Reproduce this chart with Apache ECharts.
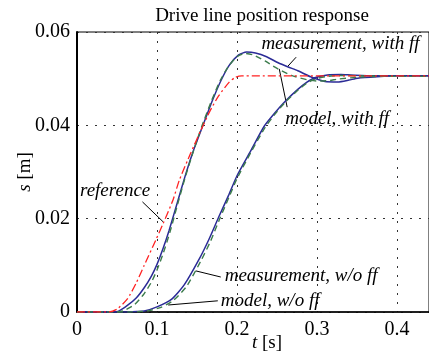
<!DOCTYPE html>
<html>
<head>
<meta charset="utf-8">
<script src="https://cdn.jsdelivr.net/npm/echarts@6/dist/echarts.min.js"></script>
<style>
  html, body { margin: 0; background: #fff; }
  #chart { width: 429px; height: 357px; }
</style>
</head>
<body>
<div id="chart"></div>
<script>
// tick values on the axes
const xTicks = [0, 0.1, 0.2, 0.3, 0.4];
const yTicks = [0, 0.02, 0.04, 0.06];

// [t (s), s (m)]
const reference = [
  [0, 0], [0.04, 0], [0.05, 0.0006], [0.063, 0.0028], [0.074, 0.0062], [0.084, 0.0100],
  [0.099, 0.0156], [0.107, 0.0187], [0.12, 0.0240], [0.128, 0.0283], [0.142, 0.0340],
  [0.155, 0.0390], [0.166, 0.0430], [0.177, 0.0463], [0.19, 0.0492], [0.198, 0.0503],
  [0.206, 0.0506], [0.44, 0.0506]
];
const measWithFf = [
  [0, 0], [0.045, 0], [0.052, 0.0002], [0.063, 0.0014], [0.074, 0.0030], [0.084, 0.0052],
  [0.093, 0.0077], [0.1, 0.0102], [0.108, 0.0138], [0.115, 0.0174], [0.125, 0.0232],
  [0.136, 0.0296], [0.146, 0.0348], [0.157, 0.0398], [0.169, 0.0452], [0.18, 0.0496],
  [0.19, 0.0528], [0.202, 0.0551], [0.212, 0.0557], [0.223, 0.0555], [0.237, 0.0547],
  [0.2515, 0.0534], [0.264, 0.0525], [0.276, 0.0517], [0.292, 0.0504], [0.31, 0.0494],
  [0.326, 0.0493], [0.34, 0.0497], [0.351, 0.0501], [0.375, 0.0504], [0.4, 0.0506],
  [0.44, 0.0506]
];
const modelWithFf = [
  [0, 0], [0.05, 0], [0.06, 0.0004], [0.072, 0.0016], [0.083, 0.0037], [0.093, 0.0064],
  [0.1, 0.0090], [0.108, 0.0127], [0.116, 0.0170], [0.125, 0.0226], [0.136, 0.0293],
  [0.146, 0.0347], [0.156, 0.0398], [0.168, 0.0452], [0.179, 0.0496], [0.19, 0.0528],
  [0.2, 0.0547], [0.21, 0.0554], [0.22, 0.0551], [0.235, 0.0538], [0.248, 0.0524],
  [0.268, 0.0507], [0.289, 0.0497], [0.301, 0.0495], [0.315, 0.0496], [0.326, 0.0499],
  [0.351, 0.0503], [0.38, 0.0505], [0.44, 0.0505]
];
const measNoFf = [
  [0, 0], [0.06, 0], [0.075, 0.0001], [0.084, 0.0002], [0.1, 0.0011], [0.118, 0.0027],
  [0.134, 0.0058], [0.152, 0.0111], [0.165, 0.0156], [0.177, 0.0203], [0.19, 0.0252],
  [0.2, 0.0292], [0.218, 0.0348], [0.234, 0.0398], [0.248, 0.0428], [0.26, 0.0451],
  [0.276, 0.0477], [0.287, 0.0492], [0.297, 0.0502], [0.313, 0.0508], [0.33, 0.0509],
  [0.342, 0.0508], [0.37, 0.0506], [0.44, 0.0506]
];
const modelNoFf = [
  [0, 0], [0.065, 0], [0.08, 0.0001], [0.09, 0.0003], [0.105, 0.0010], [0.12, 0.0024],
  [0.137, 0.0055], [0.155, 0.0110], [0.167, 0.0152], [0.178, 0.0198], [0.19, 0.0246],
  [0.2, 0.0286], [0.218, 0.0344], [0.235, 0.0395], [0.248, 0.0425], [0.26, 0.0449],
  [0.276, 0.0475], [0.287, 0.0490], [0.297, 0.0499], [0.313, 0.0505], [0.33, 0.0507],
  [0.36, 0.0506], [0.44, 0.0506]
];

// annotation text (left end, baseline) and leader line, in data units
const notes = [
  { text: 'measurement, with ff', at: [0.2305, 0.0561], from: [0.2739, 0.0546], to: [0.2627, 0.0525] },
  { text: 'model, with ff', at: [0.2602, 0.0401], from: [0.2627, 0.0439], to: [0.2528, 0.0521] },
  { text: 'reference', at: [0.0037, 0.0246], from: [0.0818, 0.0236], to: [0.1078, 0.0193] },
  { text: 'measurement, w/o ff', at: [0.1846, 0.0064], from: [0.1797, 0.0075], to: [0.1487, 0.0088] },
  { text: 'model, w/o ff', at: [0.1797, 0.0011], from: [0.176, 0.0024], to: [0.114, 0.0015] }
];

const FONT = 'Liberation Serif';
const BLUE = '#2b2b96';
const GREEN = '#3c7c4c';
const RED = '#ff2222';

const chart = echarts.init(document.getElementById('chart'));

const line = (data, color, type, width) => ({
  type: 'line',
  data: data,
  showSymbol: false,
  smooth: 0.2,
  lineStyle: { color: color, width: width, type: type },
  silent: true,
  animation: false
});

chart.setOption({
  animation: false,
  grid: {
    left: 77, right: -3, top: 32, bottom: 45,
    show: true, borderColor: '#000', borderWidth: 1
  },
  xAxis: {
    type: 'value',
    min: 0, max: 0.44, interval: 0.1,
    axisLine: { lineStyle: { color: '#000', width: 1.5 } },
    axisTick: { show: false },
    axisLabel: {
      color: '#000', fontFamily: FONT, fontSize: 20, margin: 8,
      showMaxLabel: false,
      formatter: (v) => (xTicks.some((t) => Math.abs(t - v) < 1e-9) ? String(+v.toFixed(1)) : '')
    },
    splitLine: { show: true, lineStyle: { color: '#333', width: 1, type: [2, 7] } }
  },
  yAxis: {
    type: 'value',
    min: 0, max: 0.06, interval: 0.02,
    axisLine: { show: true, lineStyle: { color: '#000', width: 2 } },
    axisTick: { show: false },
    axisLabel: {
      color: '#000', fontFamily: FONT, fontSize: 20, margin: 7,
      formatter: (v) => (v === 0 ? '0' : yTicks.includes(+v.toFixed(2)) ? v.toFixed(2) : '')
    },
    splitLine: { show: true, lineStyle: { color: '#333', width: 1, type: [2, 7] } }
  },
  series: [
    line(measNoFf, BLUE, 'solid', 1.5),
    line(modelNoFf, GREEN, [6, 4], 1.4),
    line(measWithFf, BLUE, 'solid', 1.5),
    line(modelWithFf, GREEN, [6, 4], 1.4),
    line(reference, RED, [8, 3, 2, 3], 1.3)
  ]
});

// texts and leader lines placed through the chart's own scales
const px = (p) => chart.convertToPixel({ gridIndex: 0 }, p);
const graphics = [
  {
    type: 'text', x: 262, y: 16,
    style: { text: 'Drive line position response', font: '19px ' + FONT, fill: '#000', align: 'center', verticalAlign: 'middle' }
  },
  {
    type: 'text', x: 267, y: 343,
    style: {
      text: '{i|t} [s]', font: '19px ' + FONT, fill: '#000', align: 'center', verticalAlign: 'middle',
      rich: { i: { fontStyle: 'italic', fontFamily: FONT, fontSize: 19 } }
    }
  },
  {
    type: 'text', x: 25, y: 172, rotation: Math.PI / 2,
    style: {
      text: '{i|s} [m]', font: '19px ' + FONT, fill: '#000', align: 'center', verticalAlign: 'middle',
      rich: { i: { fontStyle: 'italic', fontFamily: FONT, fontSize: 19 } }
    }
  }
];
notes.forEach((n) => {
  const a = px(n.at), f = px(n.from), t = px(n.to);
  graphics.push({
    type: 'line',
    shape: { x1: f[0], y1: f[1], x2: t[0], y2: t[1] },
    style: { stroke: '#000', lineWidth: 1 }
  });
  graphics.push({
    type: 'text', x: a[0], y: a[1] - 6,
    style: { text: n.text, font: 'italic 19px ' + FONT, fill: '#000', align: 'left', verticalAlign: 'middle' }
  });
});
chart.setOption({ graphic: graphics });
</script>
</body>
</html>
